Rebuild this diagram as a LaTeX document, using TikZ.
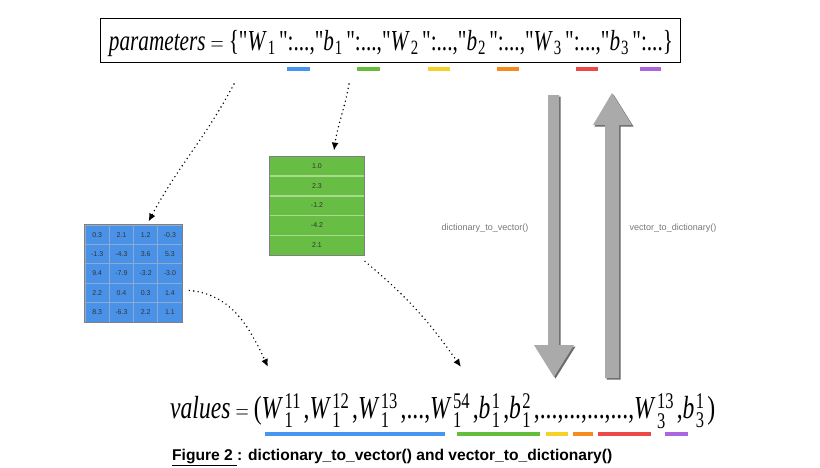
\documentclass[tikz,border=0pt]{standalone}
\usepackage{fontspec}
\usepackage{amsmath}
\usepackage{graphicx}
\setmainfont{Liberation Serif}
\newfontfamily\arial{Liberation Sans}
\usetikzlibrary{arrows.meta,calc}

\definecolor{mblue}{RGB}{74,146,232}
\definecolor{mbluegrid}{RGB}{140,170,210}
\definecolor{vgreen}{RGB}{104,190,68}
\definecolor{vgreenline}{RGB}{168,218,140}
\definecolor{ublue}{RGB}{70,150,240}
\definecolor{ugreen}{RGB}{100,190,60}
\definecolor{uyellow}{RGB}{246,210,40}
\definecolor{uorange}{RGB}{246,140,30}
\definecolor{ured}{RGB}{236,72,72}
\definecolor{upurple}{RGB}{172,100,224}
\definecolor{arrowgray}{RGB}{170,170,170}
\definecolor{arrowshade}{RGB}{105,105,105}
\definecolor{labelgray}{RGB}{118,118,118}

% indexed symbol: letter, subscript, superscript
\newcommand\idx[3]{\textit{#1}\kern0.06em$_{\text{#2}}^{\text{#3}}$\kern0.12em}
% quoted key with a subscript
\newcommand\qk[2]{\textquotedbl\textit{#1}\kern0.04em$_{\text{#2}}$\,\textquotedbl}

\tikzset{
  dotarrow/.style={line width=1.6pt, line cap=round,
    dash pattern=on 0pt off 4.4pt, -{Latex[length=8pt,width=7pt]}},
  mark line/.style={line width=3.2pt},
  cell/.style={minimum width=24.25pt, minimum height=19.4pt, inner sep=0pt,
    draw=mbluegrid, line width=0.8pt,
    font=\arial\fontsize{7}{8}\selectfont, text=black!80},
  vcell/.style={minimum width=95pt, minimum height=19.8pt, inner sep=0pt,
    font=\arial\fontsize{7}{8}\selectfont, text=black!80},
  fnlabel/.style={text=labelgray, font=\arial\fontsize{9}{10}\selectfont},
}

\begin{document}
\begin{tikzpicture}[x=1pt,y=-1pt]
\useasboundingbox (0,0) rectangle (820,467);

% dictionary box
\node[draw, line width=1pt, minimum width=580pt, minimum height=44pt, inner sep=0pt]
  (params) at (390,40) {};
\node[anchor=base, inner sep=0pt] (ptext) at (391,50)
  {\resizebox{564pt}{\height}{\fontsize{29}{32}\selectfont\textit{parameters}${}={}$\{\qk{W}{1}:...,\qk{b}{1}:...,\qk{W}{2}:...,\qk{b}{2}:...,\qk{W}{3}:...,\qk{b}{3}:...\}}};

% colour marks under the dictionary keys
\draw[mark line, ublue]   (287,69) -- (310,69);
\draw[mark line, ugreen]  (357,69) -- (380,69);
\draw[mark line, uyellow] (428,69) -- (450,69);
\draw[mark line, uorange] (497,69) -- (519,69);
\draw[mark line, ured]    (576,69) -- (598,69);
\draw[mark line, upurple] (640,69) -- (661,69);

% weight matrix
\node[draw=gray, fill=mblue, line width=0.8pt, minimum width=97pt, minimum height=97pt, inner sep=0pt]
  (mat) at (133.5,273.5) {};
\foreach \row [count=\r] in {{0.3,2.1,1.2,-0.3},{-1.3,-4.3,3.6,5.3},{9.4,-7.9,-3.2,-3.0},{2.2,0.4,0.3,1.4},{8.3,-6.3,2.2,1.1}}{
  \foreach \v [count=\c] in \row {
    \node[cell] (m-\r-\c) at ({85+24.25*(\c-0.5)},{225+19.4*(\r-0.5)}) {\v};
  }
}
\draw[gray, line width=0.8pt] (mat.north west) rectangle (mat.south east);

% bias vector
\node[draw=gray, fill=vgreen, line width=0.8pt, minimum width=95pt, minimum height=99pt, inner sep=0pt]
  (vec) at (317,205.5) {};
\foreach \v [count=\r] in {1.0,2.3,-1.2,-4.2,2.1}{
  \node[vcell] (v-\r) at (317,{156+19.8*(\r-0.5)}) {\v};
}
\foreach \r in {1,...,4}{
  \draw[vgreenline, line width=1.6pt] ([xshift=0.8pt]v-\r.south west) -- ([xshift=-0.8pt]v-\r.south east);
}

% flat vector of values
\node[anchor=base west, inner sep=0pt] (vals) at (170,418)
  {\resizebox{545pt}{\height}{\fontsize{32}{35}\selectfont\textit{values}${}={}$(\idx{W}{1}{11},\idx{W}{1}{12},\idx{W}{1}{13},...,\idx{W}{1}{54},\idx{b}{1}{1},\idx{b}{1}{2},...,...,...,...,\idx{W}{3}{13},\idx{b}{3}{1})}};

% colour marks under the values
\draw[mark line, ublue]   (265,434) -- (445,434);
\draw[mark line, ugreen]  (457,434) -- (540,434);
\draw[mark line, uyellow] (546,434) -- (568,434);
\draw[mark line, uorange] (573,434) -- (593,434);
\draw[mark line, ured]    (598,434) -- (651,434);
\draw[mark line, upurple] (665,434) -- (688,434);

% dotted connectors
\coordinate (s1) at (234,84);
\coordinate (s2) at (349,84);
\coordinate (e3) at (268,367);
\coordinate (e4) at (461,367);
\draw[dotarrow] (s1) to[out=-118,in=62] ([xshift=15pt,yshift=3pt]mat.north);
\draw[dotarrow] (s2) to[out=-100,in=82] ([xshift=17pt,yshift=5pt]vec.north);
\draw[dotarrow] ([xshift=7pt,yshift=-17pt]mat.east) to[out=-5,in=115] (e3);
\draw[dotarrow] ([xshift=48pt,yshift=-6pt]vec.south) to[out=-40,in=125] (e4);

% conversion arrows
\fill[arrowshade] (549.5,96.5) -- (560.5,96.5) -- (560.5,346.5) -- (575.5,346.5) -- (555.5,378.5) -- (535.5,346.5) -- (549.5,346.5) -- cycle;
\fill[arrowgray] (548,95) -- (559,95) -- (559,345) -- (574,345) -- (554,377) -- (534,345) -- (548,345) -- cycle;
\fill[arrowshade] (606.5,379.5) -- (620.5,379.5) -- (620.5,126.5) -- (633.5,126.5) -- (613.5,94.5) -- (594.5,126.5) -- (606.5,126.5) -- cycle;
\fill[arrowgray] (605,378) -- (619,378) -- (619,125) -- (632,125) -- (612,93) -- (593,125) -- (605,125) -- cycle;

\node[fnlabel] (d2v) at (485,228) {dictionary\_to\_vector()};
\node[fnlabel] (v2d) at (673,228) {vector\_to\_dictionary()};

% caption
\node[anchor=base west, inner sep=0pt, font=\arial\bfseries\fontsize{15.6}{18}\selectfont] (cap) at (172,460)
  {\underline{Figure 2 }: dictionary\_to\_vector() and vector\_to\_dictionary()};
\end{tikzpicture}
\end{document}
